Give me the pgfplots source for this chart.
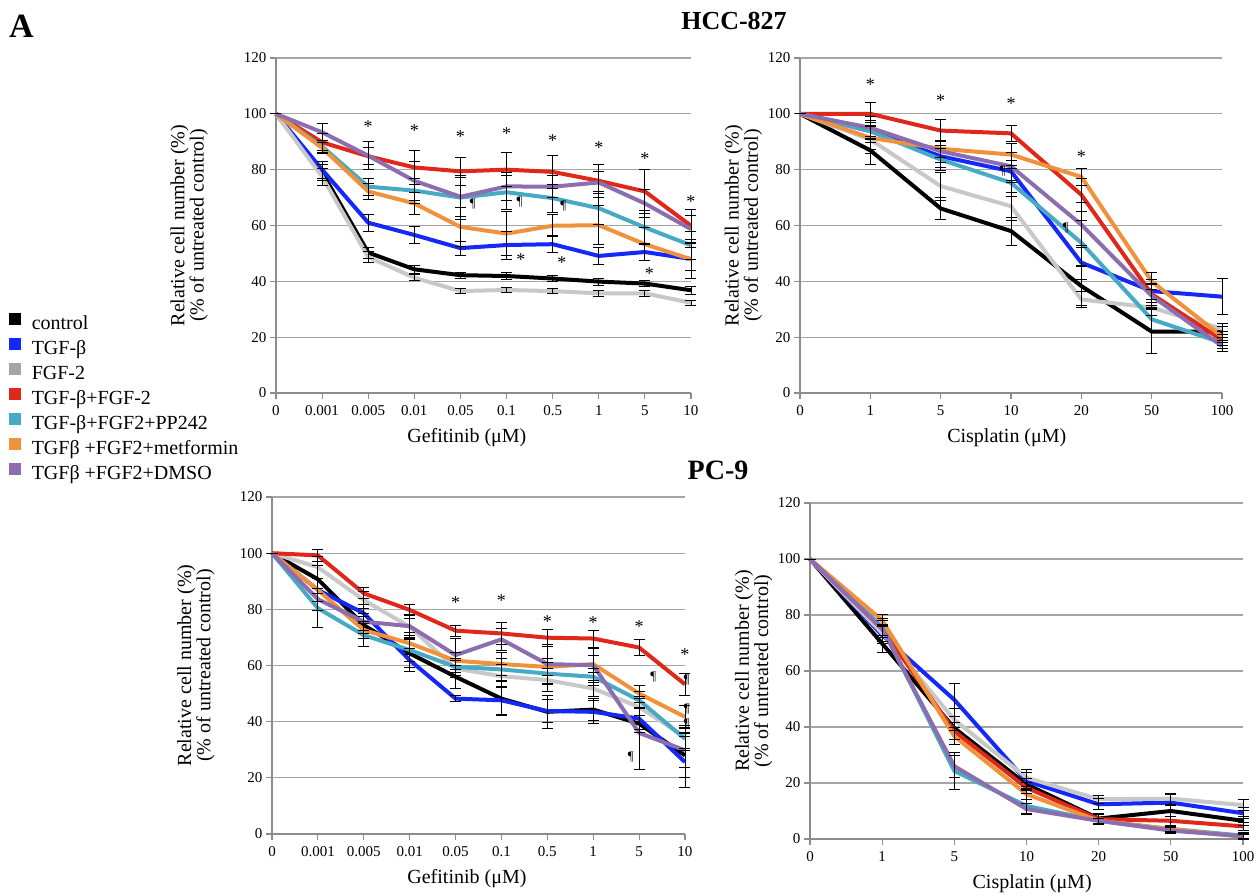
\documentclass[border=0pt]{standalone}
\usepackage{fontspec}
\setmainfont{Liberation Serif}
\usepackage{pgfplots}
\usepackage{pgfplotstable}
\pgfplotsset{compat=1.18}

\definecolor{cK}{RGB}{0,0,0}
\definecolor{cB}{RGB}{20,40,250}
\definecolor{cG}{RGB}{200,200,200}
\definecolor{cGl}{RGB}{166,166,166}
\definecolor{cR}{RGB}{224,40,26}
\definecolor{cC}{RGB}{70,170,197}
\definecolor{cO}{RGB}{240,145,60}
\definecolor{cP}{RGB}{140,110,176}
\definecolor{axgray}{RGB}{140,140,140}
\definecolor{gridgray}{RGB}{165,165,165}

% HCC-827 gefitinib
\pgfplotstableread{
x k ke b be g ge r re c ce o oe p pe
0 100 0 100 0 100 0 100 0 100 0 100 0 100 0
1 79 3 80 3 77.5 3 89.8 3 88.3 2 87.8 2 93.4 3
2 50.3 2 61 3 48.7 2 84.8 3 73.9 3 72.2 3 85 5
3 44.3 1.5 56.6 3 41.3 1 80.8 6 72.5 4.5 67.9 4 76 7
4 42.2 1 51.9 2.5 36.5 1 79.4 5 70 8 59.5 7 70.3 7
5 41.9 1.2 53 5 36.9 1 80 6 71.9 6 57.1 8 74 5
6 41 1 53.3 3 36.5 1 79.2 6 69.8 5 59.9 4 73.9 4
7 39.9 1.2 49.1 3 35.7 1.2 76 6 66.2 6 60.1 7 75.4 4
8 39.2 1 50.5 3 35.7 1 72.2 8 59.3 6 53.3 6 67.9 5
9 36.8 1.5 48 4 32.3 1 59.9 6 52.9 5 47.9 7 58.7 5
}\tabTL
% HCC-827 cisplatin
\pgfplotstableread{
x k ke b be g ge r re c ce o oe p pe
0 100 0 100 0 100 0 100 0 100 0 100 0 100 0
1 86.9 5 93.8 4 90.8 5 100 4 93.8 3 91.4 4 95 4
2 66.1 4 84.8 4 74.1 5 94 4 83.6 4 87.5 3 86.6 4
3 58 5 79.4 4 66.9 5 93 3 75.3 5 85.4 4 81.2 5
4 38.3 7 46.7 6 33.5 3 71 6 53.8 8 77.4 3 60.3 8
5 22 8 36.5 4 30.6 3 35.4 4 26.4 4 40 3 34.8 4
6 22 2 34.5 6.4 23 2 19 2 18 2 20.2 2 16.8 2
}\tabTR
% PC-9 gefitinib
\pgfplotstableread{
x k ke b be g ge r re c ce o oe p pe
0 100 0 100 0 100 0 100 0 100 0 100 0 100 0
1 90.7 5 86.9 4 95 4 99.2 2 80.4 7 86.9 4 83.6 4
2 74.4 3 78.6 3 83.3 3 85.7 2 70.8 4 72.6 3 75.6 3
3 64.3 5 61.9 4 73.8 3 79.8 2 65.5 4 67.9 4 74 4
4 56 4 48.2 1 58.9 3 72.4 2 59.5 3 61.7 3 63.7 6
5 48.2 6 47.6 5 56.2 4 71.4 4 58.6 4 60.5 4 69.3 4
6 43.5 6 43.8 4 54.8 4 69.9 3 57.1 4 59.5 3 60.5 7
7 44.3 4 43.5 4 51.8 3 69.6 3 56 3 60.5 3 60.1 6
8 39.3 3 41.1 4 45.2 3 66.4 3 47.6 3 50 3 36 13
9 28 8 25.6 9 34.5 4 53.3 4 33.9 4 41.7 4 29.8 6
}\tabBL
% PC-9 cisplatin
\pgfplotstableread{
x k ke b be g ge r re c ce o oe p pe
0 100 0 100 0 100 0 100 0 100 0 100 0 100 0
1 69.8 3 72.8 3 73.5 3 75 3 75.7 3 78.1 2 75.1 3
2 39.6 4 49.7 6 42.6 4 38.5 3 24.3 6.5 36.7 3 26 4
3 19.5 2 20.7 3 21.9 3 18.3 2 11.8 2.5 16 2 10.7 2
4 7.3 2 12.4 2 14.2 1.5 7.1 1.5 6.5 1 6.5 1 6.5 1
5 10 2 13 3 14.4 2 6.5 1.5 3.6 1 3.5 1 3 1
6 6.5 1.5 9.2 2 12.1 2 4.5 1.5 1.2 1 0.8 1 1 1
}\tabBR

\tikzset{
  star/.style={font=\fontsize{18}{18}\selectfont, yshift=-3pt},
  pil/.style={font=\fontsize{13}{13}\selectfont},
}

\pgfplotsset{
  panel/.style={
    scale only axis, anchor=south west, clip=false,
    axis lines*=left,
    axis line style={axgray, line width=1.5pt},
    ymin=0, ymax=120, ytick={0,20,...,120},
    ymajorgrids, major grid style={gridgray, line width=1.3pt},
    tick align=outside, major tick length=6pt,
    tick style={axgray, line width=1.2pt},
    /pgf/number format/assume math mode=true,
    tick label style={font=\fontsize{15}{15}\selectfont, black},
    xticklabel style={yshift=-3pt},
    ylabel={Relative cell number (\%)\\(\% of untreated control)},
    ylabel style={align=center, font=\fontsize{20}{18}\selectfont, anchor=center},
    xlabel style={font=\fontsize{20}{20}\selectfont, anchor=center},
  },
  gef/.style={xmin=0, xmax=9, xtick={0,...,9},
    xticklabels={0,0.001,0.005,0.01,0.05,0.1,0.5,1,5,10}, xlabel={Gefitinib (μM)}},
  cis/.style={xmin=0, xmax=6, xtick={0,...,6},
    xticklabels={0,1,5,10,20,50,100}, xlabel={Cisplatin (μM)}},
  ln/.style={forget plot, mark=none, line width=4pt, line join=round},
  eb/.style={forget plot, draw=none, mark=none,
    error bars/.cd, y dir=both, y explicit,
    error bar style={draw=black, line width=0.9pt},
    error mark options={draw=black, rotate=90, mark size=5.5pt, line width=0.9pt}},
}

\newcommand{\seriesplots}[1]{%
  \addplot[ln, cK] table[x=x, y=k] {#1};
  \addplot[ln, cB] table[x=x, y=b] {#1};
  \addplot[ln, cG] table[x=x, y=g] {#1};
  \addplot[ln, cR] table[x=x, y=r] {#1};
  \addplot[ln, cC] table[x=x, y=c] {#1};
  \addplot[ln, cO] table[x=x, y=o] {#1};
  \addplot[ln, cP] table[x=x, y=p] {#1};
  \addplot[eb] table[x=x, y=k, y error=ke] {#1};
  \addplot[eb] table[x=x, y=b, y error=be] {#1};
  \addplot[eb] table[x=x, y=g, y error=ge] {#1};
  \addplot[eb] table[x=x, y=r, y error=re] {#1};
  \addplot[eb] table[x=x, y=c, y error=ce] {#1};
  \addplot[eb] table[x=x, y=o, y error=oe] {#1};
  \addplot[eb] table[x=x, y=p, y error=pe] {#1};
}

\begin{document}
\begin{tikzpicture}
\useasboundingbox (0pt,0pt) rectangle (1256pt,896pt);

\node[font=\bfseries\fontsize{34}{34}\selectfont] at (21.5pt,870pt) {A};
\node[font=\bfseries\fontsize{26}{26}\selectfont] at (734pt,875pt) {HCC-827};
\node[font=\bfseries\fontsize{28}{28}\selectfont] at (718pt,426pt) {PC-9};

% top-left
\begin{axis}[panel, gef, at={(276pt,503pt)}, width=415pt, height=335pt,
  ylabel style={at={(axis description cs:-0.209,0.5)}},
  xlabel style={at={(axis description cs:0.46,0)}, yshift=-45pt},
  legend style={at={(axis description cs:-0.643,0.24)}, anchor=north west,
    draw=none, fill=none, inner sep=0pt, row sep=3.8pt,
    font=\fontsize{20}{20}\selectfont,
    nodes={inner sep=0pt, text height=14pt, text depth=4pt},
    /tikz/every odd column/.append style={column sep=11pt}},
  legend cell align=left,
  legend image code/.code={\fill[#1] (0pt,1pt) rectangle (11pt,12pt);},
]
\addlegendimage{cK}\addlegendentry{control}
\addlegendimage{cB}\addlegendentry{TGF-β}
\addlegendimage{cGl}\addlegendentry{FGF-2}
\addlegendimage{cR}\addlegendentry{TGF-β+FGF-2}
\addlegendimage{cC}\addlegendentry{TGF-β+FGF2+PP242}
\addlegendimage{cO}\addlegendentry{TGFβ +FGF2+metformin}
\addlegendimage{cP}\addlegendentry{TGFβ +FGF2+DMSO}
\seriesplots{\tabTL}
\node[star] at (axis cs:2,96.4) {*};
\node[star] at (axis cs:3,95) {*};
\node[star] at (axis cs:4,93) {*};
\node[star] at (axis cs:5,94) {*};
\node[star] at (axis cs:6,91.6) {*};
\node[star] at (axis cs:7,88.9) {*};
\node[star] at (axis cs:8,85) {*};
\node[star] at (axis cs:9,69.7) {*};
\node[star] at (axis cs:5.31,49) {*};
\node[star] at (axis cs:6.2,47.7) {*};
\node[star] at (axis cs:8.1,44) {*};
\node[pil] at (axis cs:4.27,67.7) {¶};
\node[pil] at (axis cs:5.28,68.3) {¶};
\node[pil] at (axis cs:6.23,67) {¶};
\end{axis}

% top-right
\begin{axis}[panel, cis, at={(800pt,503pt)}, width=422pt, height=335pt,
  ylabel style={at={(axis description cs:-0.134,0.5)}},
  xlabel style={at={(axis description cs:0.49,0)}, yshift=-45pt},
]
\seriesplots{\tabTR}
\node[star] at (axis cs:1,111.5) {*};
\node[star] at (axis cs:2,105.8) {*};
\node[star] at (axis cs:3,104.7) {*};
\node[star] at (axis cs:4,85.6) {*};
\node[pil] at (axis cs:2.88,79.5) {¶};
\node[pil] at (axis cs:3.78,59) {¶};
\end{axis}

% bottom-left
\begin{axis}[panel, gef, at={(272pt,62pt)}, width=413pt, height=337pt,
  ylabel style={at={(axis description cs:-0.184,0.5)}},
  xlabel style={at={(axis description cs:0.472,0)}, yshift=-45pt},
]
\seriesplots{\tabBL}
\node[star] at (axis cs:4,83.6) {*};
\node[star] at (axis cs:5,84.3) {*};
\node[star] at (axis cs:6,76.8) {*};
\node[star] at (axis cs:7,76.4) {*};
\node[star] at (axis cs:8,75) {*};
\node[star] at (axis cs:9,65.1) {*};
\node[pil] at (axis cs:8.31,56) {¶};
\node[pil] at (axis cs:7.82,27.4) {¶};
\node[pil] at (axis cs:9.04,54.8) {¶};
\node[pil] at (axis cs:9.04,44.6) {¶};
\node[pil] at (axis cs:9.04,39.3) {¶};
\end{axis}

% bottom-right
\begin{axis}[panel, cis, at={(810pt,57pt)}, width=433pt, height=336pt,
  ylabel style={at={(axis description cs:-0.130,0.5)}},
  xlabel style={at={(axis description cs:0.513,0)}, yshift=-45pt},
]
\seriesplots{\tabBR}
\end{axis}
\end{tikzpicture}
\end{document}
